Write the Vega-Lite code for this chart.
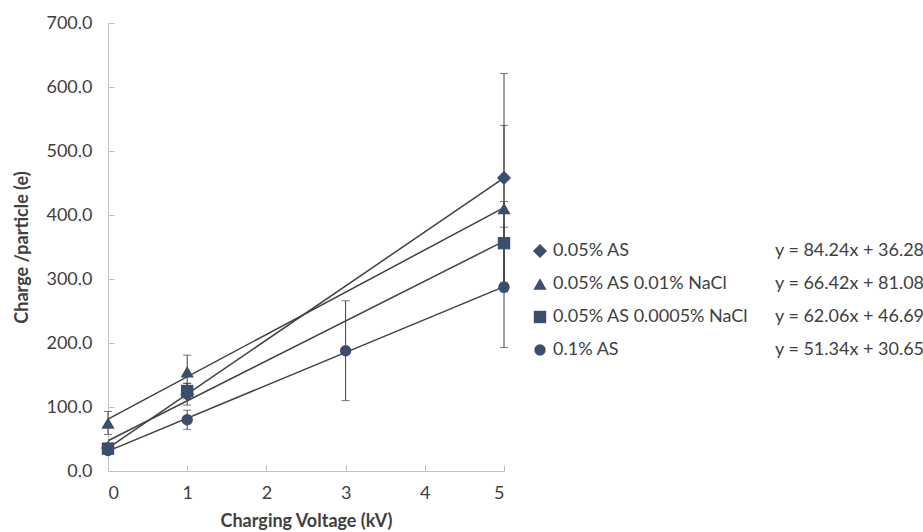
{
  "$schema": "https://vega.github.io/schema/vega-lite/v6.json",
  "padding": {"left": 13, "top": 14, "right": 0, "bottom": 0},
  "background": "white",
  "config": {
    "font": "Lato",
    "view": {"stroke": null},
    "axis": {"grid": false, "domainColor": "#BFBFBF", "tickColor": "#BFBFBF", "labelColor": "#404040", "titleColor": "#404040", "labelFont": "Lato", "titleFont": "Lato", "labelFontSize": 18, "titleFontSize": 18, "titleFontWeight": "bold"}
  },
  "datasets": {
    "pts": [
      {"series": "0.05% AS", "x": 0, "y": 36, "err": 6},
      {"series": "0.05% AS", "x": 1, "y": 120, "err": 17},
      {"series": "0.05% AS", "x": 5, "y": 458, "err": 163},
      {"series": "0.05% AS 0.01% NaCl", "x": 0, "y": 75, "err": 18},
      {"series": "0.05% AS 0.01% NaCl", "x": 1, "y": 155, "err": 26},
      {"series": "0.05% AS 0.01% NaCl", "x": 5, "y": 410, "err": 130},
      {"series": "0.05% AS 0.0005% NaCl", "x": 0, "y": 35, "err": 8},
      {"series": "0.05% AS 0.0005% NaCl", "x": 1, "y": 125, "err": 12},
      {"series": "0.05% AS 0.0005% NaCl", "x": 5, "y": 356, "err": 65},
      {"series": "0.1% AS", "x": 0, "y": 32, "err": 5},
      {"series": "0.1% AS", "x": 1, "y": 80, "err": 15},
      {"series": "0.1% AS", "x": 3, "y": 188, "err": 78},
      {"series": "0.1% AS", "x": 5, "y": 287, "err": 94}
    ],
    "legend": [
      {"series": "0.05% AS", "equation": "y = 84.24x + 36.28"},
      {"series": "0.05% AS 0.01% NaCl", "equation": "y = 66.42x + 81.08"},
      {"series": "0.05% AS 0.0005% NaCl", "equation": "y = 62.06x + 46.69"},
      {"series": "0.1% AS", "equation": "y = 51.34x + 30.65"}
    ]
  },
  "spacing": 20,
  "hconcat": [
    {
      "width": 396,
      "height": 448,
      "data": {"name": "pts"},
      "encoding": {
        "x": {
          "field": "x", "type": "quantitative",
          "scale": {"domain": [0, 5], "nice": false},
          "axis": {"values": [0, 1, 2, 3, 4, 5], "title": "Charging Voltage (kV)", "tickSize": -6, "labelPadding": 19, "titlePadding": 10, "format": "d"}
        },
        "y": {
          "field": "y", "type": "quantitative",
          "title": "Charge /particle (e)",
          "scale": {"domain": [0, 700], "nice": false},
          "axis": {"values": [0, 100, 200, 300, 400, 500, 600, 700], "format": ".1f", "title": "Charge /particle (e)", "tickSize": -6, "labelPadding": 22, "titlePadding": 14}
        }
      },
      "layer": [
        {
          "transform": [{"regression": "y", "on": "x", "groupby": ["series"], "extent": [0, 5]}],
          "mark": {"type": "line", "color": "#404040", "strokeWidth": 1.5},
          "encoding": {
            "detail": {"field": "series"}
          }
        },
        {
          "mark": {"type": "errorbar", "color": "#404040", "thickness": 1, "ticks": {"size": 8, "thickness": 1, "color": "#404040"}},
          "encoding": {
            "yError": {"field": "err"},
            "detail": {"field": "series"}
          }
        },
        {
          "mark": {"type": "point", "filled": true, "opacity": 1, "color": "#3C4E6E"},
          "encoding": {
            "shape": {
              "field": "series", "type": "nominal",
              "scale": {"domain": ["0.05% AS", "0.05% AS 0.01% NaCl", "0.05% AS 0.0005% NaCl", "0.1% AS"], "range": ["diamond", "triangle-up", "square", "circle"]},
              "legend": null
            },
            "size": {
              "field": "series", "type": "nominal",
              "scale": {"domain": ["0.05% AS", "0.05% AS 0.01% NaCl", "0.05% AS 0.0005% NaCl", "0.1% AS"], "range": [200, 130, 110, 130]},
              "legend": null
            }
          }
        }
      ]
    },
    {
      "width": 393,
      "height": 448,
      "data": {"name": "legend"},
      "encoding": {
        "y": {
          "field": "series", "type": "ordinal",
          "scale": {"domain": ["0.05% AS", "0.05% AS 0.01% NaCl", "0.05% AS 0.0005% NaCl", "0.1% AS"], "range": [228, 327], "padding": 0},
          "axis": null
        }
      },
      "layer": [
        {
          "mark": {"type": "point", "filled": true, "opacity": 1, "color": "#3C4E6E"},
          "encoding": {
            "x": {"datum": 0.0127, "type": "quantitative", "scale": {"domain": [0, 1], "nice": false}, "axis": null},
            "shape": {
              "field": "series", "type": "nominal",
              "scale": {"domain": ["0.05% AS", "0.05% AS 0.01% NaCl", "0.05% AS 0.0005% NaCl", "0.1% AS"], "range": ["diamond", "triangle-up", "square", "circle"]},
              "legend": null
            },
            "size": {
              "field": "series", "type": "nominal",
              "scale": {"domain": ["0.05% AS", "0.05% AS 0.01% NaCl", "0.05% AS 0.0005% NaCl", "0.1% AS"], "range": [110, 75, 65, 75]},
              "legend": null
            }
          }
        },
        {
          "mark": {"type": "text", "align": "left", "baseline": "middle", "fontSize": 18, "color": "#404040", "font": "Lato"},
          "encoding": {
            "x": {"datum": 0.046, "type": "quantitative"},
            "text": {"field": "series"}
          }
        },
        {
          "mark": {"type": "text", "align": "right", "baseline": "middle", "fontSize": 18, "color": "#404040", "font": "Lato"},
          "encoding": {
            "x": {"datum": 0.99, "type": "quantitative"},
            "text": {"field": "equation"}
          }
        }
      ]
    }
  ]
}
